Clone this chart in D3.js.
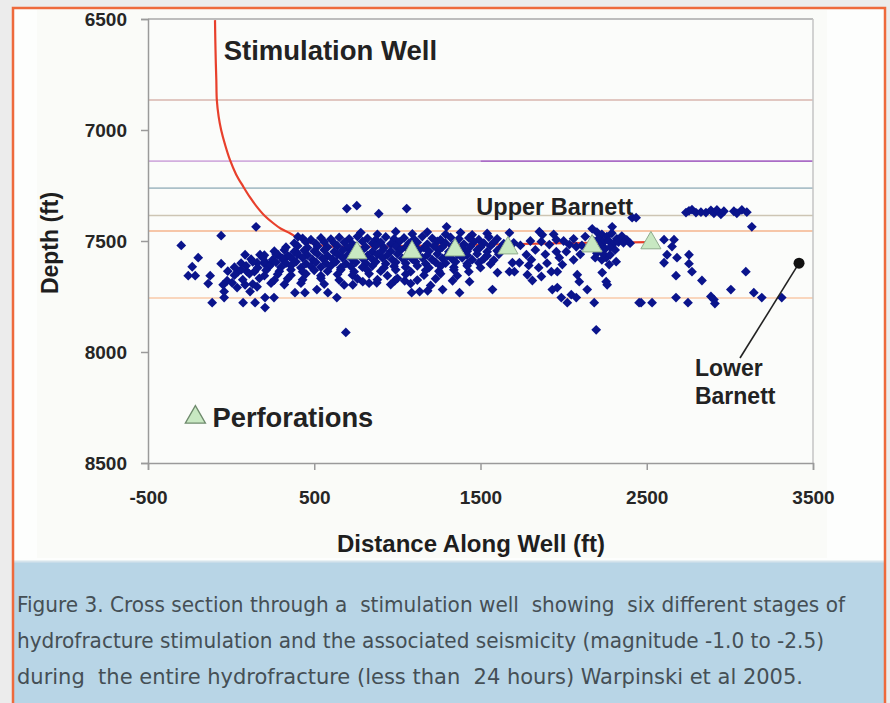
<!DOCTYPE html>
<html>
<head>
<meta charset="utf-8">
<script src="https://cdn.jsdelivr.net/npm/d3@7"></script>
<style>
  body { margin: 0; background: #ececec; }
  svg { display: block; }
</style>
</head>
<body>
<div id="chart"></div>
<script>
// Axis ticks
const xTicks = [-500, 500, 1500, 2500, 3500];
const yTicks = [6500, 7000, 7500, 8000, 8500];

// Formation horizons (depth, ft) and the span they cover along the well
const horizonDepths = [6865, 7140, 7140, 7262, 7385, 7455, 7757];
const horizonFrom = [-500, -500, 1500, -500, -500, -500, -500];
const horizonTo = [3500, 1500, 3500, 3500, 3500, 3500, 3500];
const horizonColors = ["#d8b6ae", "#d2aede", "#aa6cc6", "#abc0c8", "#cdc5b4", "#f4b48c", "#f8caa8"];

// Stimulation well trajectory [distance, depth]
const wellPath = [
  [-97, 6505], [-95, 6600], [-92, 6700], [-89, 6775], [-86, 6865], [-75, 6940],
  [-60, 7000], [-35, 7070], [-7, 7135], [30, 7200], [73, 7255], [115, 7305],
  [154, 7345], [200, 7385], [254, 7420], [300, 7445], [354, 7465], [410, 7490],
  [474, 7508], [530, 7518], [595, 7524], [700, 7526], [1000, 7523], [1500, 7517],
  [2000, 7510], [2520, 7505]
];

// Perforation stages [distance, depth]
const perforations = [
  [757, 7554], [1088, 7550], [1347, 7541], [1665, 7532], [2171, 7523], [2525, 7509]
];

// Microseismic events [distance, depth]
const sparseEvents = [
  [-300, 7520], [-60, 7476], [150, 7436], [-198, 7575], [-234, 7616], [-60, 7602],
  [-258, 7656], [-216, 7656], [-126, 7656], [-138, 7692], [84, 7562], [-114, 7778],
  [-42, 7728], [-42, 7755], [72, 7778], [144, 7778], [204, 7800], [204, 7755],
  [258, 7755], [384, 7733], [444, 7733], [42, 7638], [96, 7638], [-24, 7679],
  [6, 7688], [-48, 7697], [36, 7710], [84, 7697], [114, 7728], [156, 7706],
  [156, 7598], [174, 7562], [204, 7593], [234, 7607], [282, 7562], [312, 7584],
  [354, 7571], [396, 7553], [402, 7481],
  [696, 7354], [756, 7341], [888, 7377], [1056, 7354], [1296, 7436], [690, 7912],
  [516, 7719], [582, 7733], [636, 7755], [732, 7697], [792, 7683], [876, 7688],
  [984, 7679], [1044, 7679], [1086, 7733], [1134, 7728], [1182, 7724], [1272, 7719],
  [1374, 7733], [1332, 7679], [1434, 7683]
];

const bandEvents = [
  [780, 7462], [880, 7470], [990, 7458], [1090, 7468], [1180, 7460], [1290, 7470],
  [1380, 7462], [1450, 7472], [1540, 7466],
  [430, 7488], [480, 7494], [540, 7486], [600, 7492], [650, 7484], [710, 7490],
  [760, 7480], [820, 7488], [870, 7494], [930, 7482], [980, 7490], [1040, 7486],
  [1100, 7492], [1150, 7480], [1210, 7488], [1260, 7494], [1320, 7484], [1370, 7490],
  [1430, 7486], [1490, 7494], [1550, 7482], [1600, 7490],
  [380, 7510], [450, 7505], [510, 7512], [560, 7504], [620, 7510], [680, 7506],
  [730, 7514], [790, 7502], [850, 7510], [900, 7506], [960, 7514], [1010, 7504],
  [1070, 7510], [1120, 7506], [1180, 7514], [1240, 7502], [1290, 7510], [1350, 7506],
  [1400, 7514], [1460, 7504], [1520, 7510], [1580, 7506], [1640, 7512], [1700, 7508],
  [330, 7528], [400, 7522], [460, 7530], [520, 7524], [580, 7528], [640, 7522],
  [700, 7530], [750, 7524], [810, 7528], [870, 7522], [920, 7530], [990, 7524],
  [1050, 7528], [1100, 7522], [1160, 7530], [1220, 7524], [1270, 7528], [1330, 7522],
  [1390, 7530], [1440, 7524], [1500, 7528], [1560, 7522], [1620, 7530],
  [260, 7546], [320, 7540], [380, 7548], [440, 7542], [500, 7546], [560, 7540],
  [620, 7548], [670, 7542], [730, 7546], [790, 7540], [850, 7548], [910, 7542],
  [960, 7546], [1020, 7540], [1080, 7548], [1130, 7542], [1190, 7546], [1250, 7540],
  [1310, 7548], [1360, 7542], [1420, 7546], [1480, 7540], [1540, 7548], [1600, 7544],
  [200, 7564], [270, 7558], [340, 7566], [400, 7560], [460, 7564], [520, 7558],
  [580, 7566], [640, 7560], [700, 7564], [760, 7558], [820, 7566], [880, 7560],
  [940, 7564], [1000, 7558], [1060, 7566], [1120, 7560], [1180, 7564], [1240, 7558],
  [1300, 7566], [1360, 7560], [1420, 7564], [1480, 7558], [1540, 7566], [1610, 7560],
  [120, 7582], [190, 7576], [250, 7584], [310, 7578], [370, 7582], [430, 7576],
  [490, 7584], [550, 7578], [610, 7582], [670, 7576], [730, 7584], [790, 7578],
  [850, 7582], [910, 7576], [970, 7584], [1030, 7578], [1090, 7582], [1150, 7576],
  [1210, 7584], [1270, 7578], [1330, 7582], [1390, 7576], [1450, 7584], [1520, 7580],
  [1580, 7586],
  [60, 7600], [130, 7594], [200, 7602], [270, 7596], [330, 7600], [390, 7594],
  [450, 7602], [510, 7596], [570, 7600], [630, 7594], [690, 7602], [750, 7596],
  [810, 7600], [870, 7594], [930, 7602], [990, 7596], [1050, 7600], [1110, 7594],
  [1170, 7602], [1230, 7596], [1290, 7600], [1350, 7594], [1420, 7602], [1490, 7598],
  [1560, 7604],
  [20, 7618], [90, 7612], [160, 7620], [230, 7614], [300, 7618], [360, 7612],
  [420, 7620], [480, 7614], [540, 7618], [600, 7612], [660, 7620], [720, 7614],
  [790, 7618], [850, 7612], [920, 7620], [980, 7614], [1050, 7618], [1120, 7612],
  [1190, 7620], [1260, 7614], [1340, 7618], [1420, 7612], [1500, 7620],
  [-20, 7636], [60, 7630], [140, 7638], [210, 7632], [290, 7636], [360, 7630],
  [430, 7638], [500, 7632], [580, 7636], [660, 7630], [740, 7638], [820, 7632],
  [900, 7636], [990, 7630], [1080, 7638], [1170, 7632], [1250, 7636], [1340, 7630],
  [1430, 7638],
  [20, 7654], [110, 7648], [200, 7656], [280, 7650], [360, 7654], [450, 7648],
  [540, 7656], [640, 7650], [730, 7654], [830, 7648], [940, 7656], [1050, 7650],
  [1160, 7654], [1260, 7648], [1360, 7656],
  [70, 7674], [170, 7668], [260, 7676], [340, 7670], [430, 7674], [540, 7668],
  [650, 7676], [760, 7670], [880, 7674], [1000, 7668], [1120, 7676], [1230, 7670],
  [130, 7694], [240, 7690], [320, 7696], [420, 7690], [560, 7694], [680, 7698],
  [830, 7690], [960, 7696], [1080, 7692], [1200, 7700]
];

const eastEvents = [
  [2412, 7395], [2292, 7436], [1854, 7458], [1674, 7463], [1572, 7719],
  [1692, 7598], [1734, 7598], [1602, 7642], [1674, 7638], [1704, 7638],
  [1782, 7652], [1812, 7678], [1866, 7660], [1926, 7638],
  [1932, 7719], [1962, 7710], [1986, 7755], [2022, 7778], [2046, 7742], [2076, 7755],
  [2082, 7652], [2094, 7683], [2142, 7719], [2184, 7778], [2196, 7900],
  [2232, 7642], [2256, 7683], [2262, 7697],
  [1956, 7548], [1974, 7575], [1992, 7606], [1962, 7638],
  [2454, 7778],
  [1872, 7472], [1866, 7503], [1914, 7516], [1956, 7494], [2034, 7516], [2076, 7526],
  [2016, 7548], [1776, 7562], [1806, 7584], [2316, 7593], [2274, 7606], [2256, 7575],
  [2172, 7445], [2200, 7460], [2230, 7470], [2260, 7480], [2290, 7465], [2320, 7490],
  [2350, 7478], [2380, 7495], [2180, 7500], [2210, 7490], [2240, 7505], [2270, 7498],
  [2300, 7512], [2330, 7505], [2360, 7508], [2400, 7510], [2190, 7530], [2220, 7520],
  [2250, 7535], [2280, 7528], [2310, 7540], [2200, 7555], [2240, 7560], [2280, 7562],
  [2230, 7585], [2190, 7575],
  [1800, 7500], [1740, 7520], [1830, 7540], [1890, 7560], [1940, 7470], [2000, 7500],
  [2060, 7490], [2110, 7520], [2130, 7480], [2100, 7560], [2060, 7585], [1900, 7600],
  [1850, 7620], [1790, 7610],
  [2436, 7395],
  [2736, 7372], [2754, 7364], [2772, 7359], [2796, 7372], [2826, 7370], [2856, 7372],
  [2886, 7362], [2904, 7375], [2922, 7360], [2946, 7380], [2964, 7366], [3024, 7366],
  [3042, 7375], [3072, 7360], [3102, 7370],
  [3132, 7436],
  [2604, 7494], [2664, 7494], [2652, 7525],
  [2622, 7562], [2682, 7575], [2604, 7598], [2754, 7562], [2754, 7602],
  [2676, 7656], [2772, 7638], [2832, 7678], [3096, 7638], [3006, 7719],
  [3144, 7733], [3192, 7755], [3312, 7755],
  [2466, 7778], [2532, 7778], [2676, 7755], [2748, 7778],
  [2886, 7750], [2904, 7764], [2910, 7782]
];

// Lower Barnett marker and leader end
const lowerBarnettPoint = [3416, 7600];
const lowerBarnettLeader = [3061, 8027];

const captionLines = [
  "Figure 3. Cross section through a  stimulation well  showing  six different stages of",
  "hydrofracture stimulation and the associated seismicity (magnitude -1.0 to -2.5)",
  "during  the entire hydrofracture (less than  24 hours) Warpinski et al 2005."
];
const captionWidths = [828, 807, 786];

// ---- Layout ----
const W = 890, H = 703;
const plot = {left: 148, right: 813, top: 19, bottom: 463};

const svg = d3.select("#chart").append("svg").attr("width", W).attr("height", H);

// Page frame
svg.append("rect").attr("width", W).attr("height", H).attr("fill", "#ececec");
svg.append("rect").attr("x", 13).attr("y", 8).attr("width", 872).attr("height", H)
  .attr("fill", "#fdfefd");
svg.append("rect").attr("x", 37).attr("y", 10).attr("width", 790).attr("height", 548)
  .attr("fill", "#fafbf8");
svg.append("rect").attr("x", 14).attr("y", 562).attr("width", 870).attr("height", 145)
  .attr("fill", "#b8d5e6");
svg.append("line").attr("x1", 14).attr("x2", 884).attr("y1", 561.5).attr("y2", 561.5)
  .attr("stroke", "#d6e4ec").attr("stroke-width", 2);
svg.append("rect").attr("x", 13).attr("y", 8).attr("width", 872).attr("height", H)
  .attr("fill", "none").attr("stroke", "#ee6a3c").attr("stroke-width", 2.5);

// Scales
const x = d3.scaleLinear().domain([-500, 3500]).range([plot.left, plot.right]);
const y = d3.scaleLinear().domain([6500, 8500]).range([plot.top, plot.bottom]);

const g = svg.append("g");

g.append("rect")
  .attr("x", plot.left).attr("y", plot.top)
  .attr("width", plot.right - plot.left).attr("height", plot.bottom - plot.top)
  .attr("fill", "#fbfcfa");

// Horizons
g.selectAll(".horizon")
  .data(horizonDepths)
  .join("line")
  .attr("class", "horizon")
  .attr("x1", (d, i) => x(horizonFrom[i]))
  .attr("x2", (d, i) => x(horizonTo[i]))
  .attr("y1", (d) => y(d))
  .attr("y2", (d) => y(d))
  .attr("stroke", (d, i) => horizonColors[i])
  .attr("stroke-width", 1.6);

// Frame lines (top and right)
g.append("line").attr("x1", plot.left).attr("x2", plot.right)
  .attr("y1", plot.top).attr("y2", plot.top).attr("stroke", "#a8a8a8").attr("stroke-width", 1.5);
g.append("line").attr("x1", plot.right).attr("x2", plot.right)
  .attr("y1", plot.top).attr("y2", plot.bottom).attr("stroke", "#c4c4c4").attr("stroke-width", 1.5);

// Well trajectory
g.append("path")
  .datum(wellPath)
  .attr("fill", "none")
  .attr("stroke", "#e8402c")
  .attr("stroke-width", 2.2)
  .attr("d", d3.line().x((d) => x(d[0])).y((d) => y(d[1])).curve(d3.curveCatmullRom));

// Events as diamonds
const diamond = d3.symbol().type(d3.symbolSquare).size(48);
g.selectAll(".evt")
  .data(sparseEvents.concat(bandEvents, eastEvents))
  .join("path")
  .attr("class", "evt")
  .attr("d", diamond)
  .attr("transform", (d) => `translate(${x(d[0])},${y(d[1])}) rotate(45)`)
  .attr("fill", "#0a148c");

// Perforations
const tri = d3.symbol().type(d3.symbolTriangle).size(175);
g.selectAll(".perf")
  .data(perforations)
  .join("path")
  .attr("class", "perf")
  .attr("d", tri)
  .attr("transform", (d) => `translate(${x(d[0])},${y(d[1])})`)
  .attr("fill", "#c8e8c2")
  .attr("stroke", "#8eab8c")
  .attr("stroke-width", 1);

// Axes
const font = "Liberation Sans, Arial, sans-serif";
const yAxis = g.append("g")
  .attr("transform", `translate(${plot.left},0)`)
  .call(d3.axisLeft(y).tickValues(yTicks).tickFormat((d) => String(d)).tickSize(7).tickPadding(14));
const xAxis = g.append("g")
  .attr("transform", `translate(0,${plot.bottom})`)
  .call(d3.axisBottom(x).tickValues(xTicks).tickFormat((d) => String(d)).tickSize(7).tickPadding(21));
[yAxis, xAxis].forEach((a) => {
  a.select(".domain").attr("stroke", "#9a9a9a").attr("stroke-width", 1.5);
  a.selectAll(".tick line").attr("stroke", "#9a9a9a").attr("stroke-width", 1.5);
  a.selectAll(".tick text")
    .attr("fill", "#262626")
    .style("font-family", font)
    .style("font-weight", "bold")
    .style("font-size", "19px");
});

// Axis titles
svg.append("text")
  .attr("transform", "translate(58,243) rotate(-90)")
  .attr("text-anchor", "middle")
  .style("font-family", font).style("font-weight", "bold").style("font-size", "23px")
  .attr("fill", "#1e1e1e")
  .text("Depth (ft)");
svg.append("text")
  .attr("x", 471).attr("y", 552)
  .attr("text-anchor", "middle")
  .style("font-family", font).style("font-weight", "bold").style("font-size", "24px")
  .attr("fill", "#1e1e1e")
  .text("Distance Along Well (ft)");

// Annotations
function label(txt, dx, dy, size) {
  svg.append("text")
    .attr("x", x(dx)).attr("y", y(dy))
    .style("font-family", font).style("font-weight", "bold").style("font-size", size + "px")
    .attr("fill", "#222")
    .text(txt);
}
label("Stimulation Well", -45, 6685, 27.5);
label("Upper Barnett", 1475, 7385, 23.5);
label("Perforations", -112, 8338, 27.3);
label("Lower", 2790, 8108, 23);
label("Barnett", 2790, 8234, 23);

svg.append("path")
  .attr("d", tri)
  .attr("transform", `translate(${x(-215)},${y(8294)})`)
  .attr("fill", "#c8e8c2").attr("stroke", "#6e8a6c").attr("stroke-width", 1.3);

svg.append("line")
  .attr("x1", x(lowerBarnettPoint[0])).attr("y1", y(lowerBarnettPoint[1]))
  .attr("x2", x(lowerBarnettLeader[0])).attr("y2", y(lowerBarnettLeader[1]))
  .attr("stroke", "#222").attr("stroke-width", 1.6);
svg.append("circle")
  .attr("cx", x(lowerBarnettPoint[0])).attr("cy", y(lowerBarnettPoint[1]))
  .attr("r", 5.5).attr("fill", "#111");

// Caption
svg.selectAll(".cap")
  .data(captionLines)
  .join("text")
  .attr("class", "cap")
  .attr("x", 17)
  .attr("y", (d, i) => 612 + i * 36)
  .attr("textLength", (d, i) => captionWidths[i])
  .attr("lengthAdjust", "spacingAndGlyphs")
  .style("font-family", "'Liberation Sans Narrow', 'DejaVu Sans Condensed', 'DejaVu Sans', sans-serif")
  .style("font-size", "22px")
  .style("white-space", "pre")
  .attr("fill", "#454f55")
  .text((d) => d);
</script>
</body>
</html>
